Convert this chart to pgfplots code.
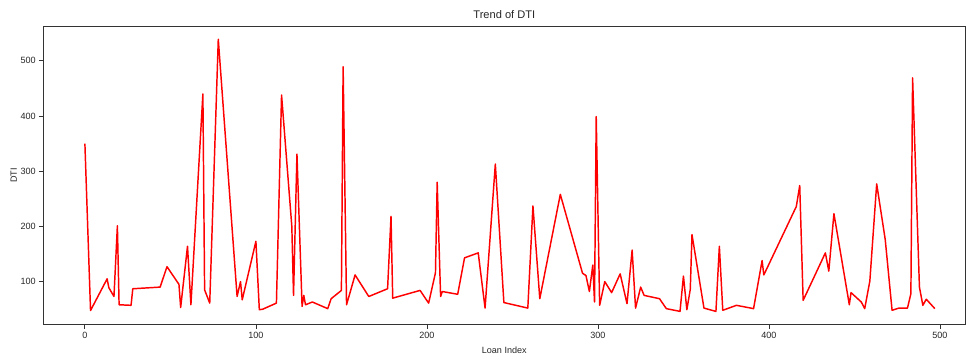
\documentclass[border=0pt]{standalone}
\usepackage{fontspec}
\setmainfont{Liberation Sans}
\usepackage{pgfplots}
\pgfplotsset{compat=1.18}
\begin{document}
\fontsize{6.8}{8}\selectfont
\begin{tikzpicture}
\begin{axis}[
  scale only axis,
  width=692pt, height=224pt,
  xmin=-24.5, xmax=515, ymin=22, ymax=563,
  xtick={0,100,200,300,400,500},
  ytick={100,200,300,400,500},
  tick pos=left,
  tick align=outside,
  major tick length=3pt,
  tick style={black!80, line width=0.6pt},
  axis line style={black!80, line width=0.6pt},
  /pgf/number format/assume math mode=true,
  ticklabel style={font=\fontsize{6.8}{8}\selectfont, text=black!85},
  title={Trend of DTI},
  title style={font=\fontsize{8.3}{10}\selectfont, yshift=-3pt, text=black!85},
  xlabel={Loan Index},
  ylabel={DTI},
  label style={font=\fontsize{6.8}{8}\selectfont, text=black!85},
  xlabel style={yshift=-2pt},
  ylabel style={yshift=-2pt},
]
\addplot[red, line width=1.1pt, line join=round] coordinates {
(0,350) (3.3,47.6) (13,105) (14,89) (17,73) (19,201) (20,58) (27,57) (28,87)
(44,90) (48,127) (55,95) (56,53) (60,164) (62,58) (69,440) (70,85) (73,61)
(78,539) (89,73) (91,100) (92,67) (100,173) (102,49) (104,50) (112,61)
(115,438) (121,200) (122,75) (124,331) (127,55) (128,75) (129,58) (133,63)
(142,51) (144,69) (150,84) (151,489) (153,58) (158,112) (166,73) (177,87)
(179,218) (180,70) (196,84) (201,61) (205,116) (206,280) (208,73) (209,82)
(218,77) (222,143) (230,152) (234,52) (240,313) (245,62) (259,52) (262,237)
(266,69) (278,258) (291,115) (293,111) (295,82) (297,130) (298,63) (299,399)
(301,57) (304,100) (308,80) (313,114) (317,60) (320,157) (322,52) (325,90)
(327,75) (336,69) (340,51) (348,46) (350,110) (352,49) (354,86) (355,185)
(362,52) (369,46) (371,164) (373,48) (381,57) (391,51) (396,138) (397,112)
(416,236) (418,274) (420,66) (433,152) (435,119) (438,223) (447,58) (448,80)
(454,63) (456,51) (459,101) (463,277) (468,176) (472,48) (476,52) (481,52)
(483,78) (484,469) (488,90) (490,57) (492,68) (497,51)
};
\end{axis}
\useasboundingbox (current axis.south west) ++(-32.25pt,-26pt) rectangle ([yshift=19.5pt]current axis.north east);
\end{tikzpicture}
\end{document}
